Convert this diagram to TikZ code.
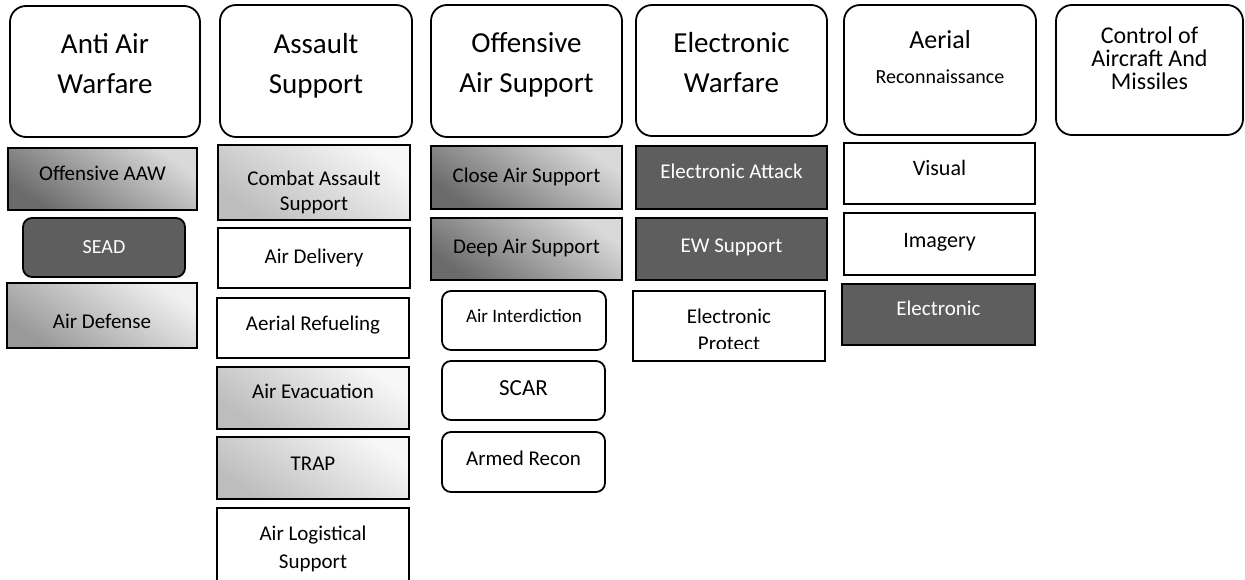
\documentclass[tikz,border=0pt]{standalone}
\usepackage{fontspec}
\setmainfont{Carlito}
\lineskiplimit=-100pt
\begin{document}
\begin{tikzpicture}[x=1pt,y=-1pt]
\tikzset{
  bord/.style={draw=black, line width=1.8pt},
  head/.style={bord, rounded corners=16pt},
  plain/.style={bord},
  rnd/.style={bord, rounded corners=9pt},
  dark/.style={bord, fill=black!63},
  darkrnd/.style={dark, rounded corners=9pt},
  midshade/.style={bord, top color=black!15, bottom color=black!58, shading angle=-35},
  lightshade/.style={bord, top color=black!6, bottom color=black!40, shading angle=-35},
  paleshade/.style={bord, top color=black!3, bottom color=black!26, shading angle=-35},
  ht/.style={font=\fontsize{29}{40}\selectfont},
  st/.style={font=\fontsize{21}{27}\selectfont},
  wt/.style={st, text=white},
}
\newcommand\bx[9]{%
  \node[#2, minimum width={(#5-#3)*1pt}, minimum height={(#6-#4)*1pt}, inner sep=0pt] (#1) at ({(#3+#5)/2},{(#4+#6)/2}) {};
  \node[align=center, inner sep=0pt, anchor=north, #7] (#1t) at ({(#3+#5)/2},#8) {\strut #9};}
\useasboundingbox (0,0) rectangle (1245,580);
\fill[white] (0,0) rectangle (1245,580);
\clip (0,0) rectangle (1245,580);
% headers
\bx{h1}{head}{10}{6}{200}{137}{ht}{25}{Anti Air\\Warfare}
\bx{h2}{head}{220}{5}{412}{137}{ht}{25}{Assault\\Support}
\bx{h3}{head}{431}{5}{622}{137}{ht}{24}{Offensive\\Air Support}
\bx{h4}{head}{636}{5}{827}{136}{ht}{24}{Electronic\\Warfare}
\bx{h5}{head}{844}{5}{1036}{135}{font=\fontsize{20}{35}\selectfont}{23.5}{{\fontsize{26}{35}\selectfont Aerial}\\Reconnaissance}
\bx{h6}{head}{1056}{5}{1243}{135}{font=\fontsize{24}{23}\selectfont}{26.9}{Control of\\Aircraft And\\Missiles}
% column 1
\bx{a1}{midshade}{8}{148}{197}{210}{st}{161.1}{Offensive AAW}
\bx{a2}{darkrnd}{23}{218}{185}{277}{wt, font=\fontsize{20}{24}\selectfont}{236.2}{SEAD}
\bx{a3}{lightshade}{7}{283}{197}{348}{st}{309.1}{Air Defense}
% column 2
\bx{b1}{paleshade}{218}{145}{410}{220}{font=\fontsize{21}{25}\selectfont}{167.5}{Combat Assault\\Support}
\bx{b2}{plain}{218}{228}{410}{288}{st}{244.1}{Air Delivery}
\bx{b3}{plain}{217}{298}{409}{358}{st}{311.1}{Aerial Refueling}
\bx{b4}{paleshade}{217}{367}{409}{429}{st}{379.1}{Air Evacuation}
\bx{b5}{paleshade}{217}{437}{409}{499}{st}{451.1}{TRAP}
\bx{b6}{plain}{217}{508}{409}{610}{font=\fontsize{21}{28}\selectfont}{520.4}{Air Logistical\\Support}
% column 3
\bx{c1}{midshade}{431}{146}{622}{209}{st}{163.1}{Close Air Support}
\bx{c2}{midshade}{431}{218}{622}{280}{st}{234.1}{Deep Air Support}
\bx{c3}{rnd}{442}{291}{606}{350}{font=\fontsize{19}{23}\selectfont}{305.9}{Air Interdiction}
\bx{c4}{rnd}{442}{361}{605}{420}{font=\fontsize{23}{27}\selectfont}{376.1}{SCAR}
\bx{c5}{rnd}{442}{432}{605}{492}{st}{446.1}{Armed Recon}
% column 4
\bx{d1}{dark}{636}{146}{827}{209}{wt}{159.1}{Electronic Attack}
\bx{d2}{dark}{636}{218}{827}{280}{wt}{233.1}{EW Support}
\node[plain, minimum width=192pt, minimum height=70pt, inner sep=0pt] (d3) at (729,326) {};
\begin{scope}
  \clip (633,291) rectangle (825,348);
  \node[align=center, inner sep=0pt, anchor=north, st] (d3t) at (729,304.1) {\strut Electronic\\Protect};
\end{scope}
% column 5
\bx{e1}{plain}{844}{143}{1035}{204}{font=\fontsize{22}{26}\selectfont}{156.8}{Visual}
\bx{e2}{plain}{844}{213}{1035}{275}{font=\fontsize{22}{26}\selectfont}{228.8}{Imagery}
\bx{e3}{dark}{842}{284}{1035}{345}{wt}{296.1}{Electronic}
\end{tikzpicture}
\end{document}
